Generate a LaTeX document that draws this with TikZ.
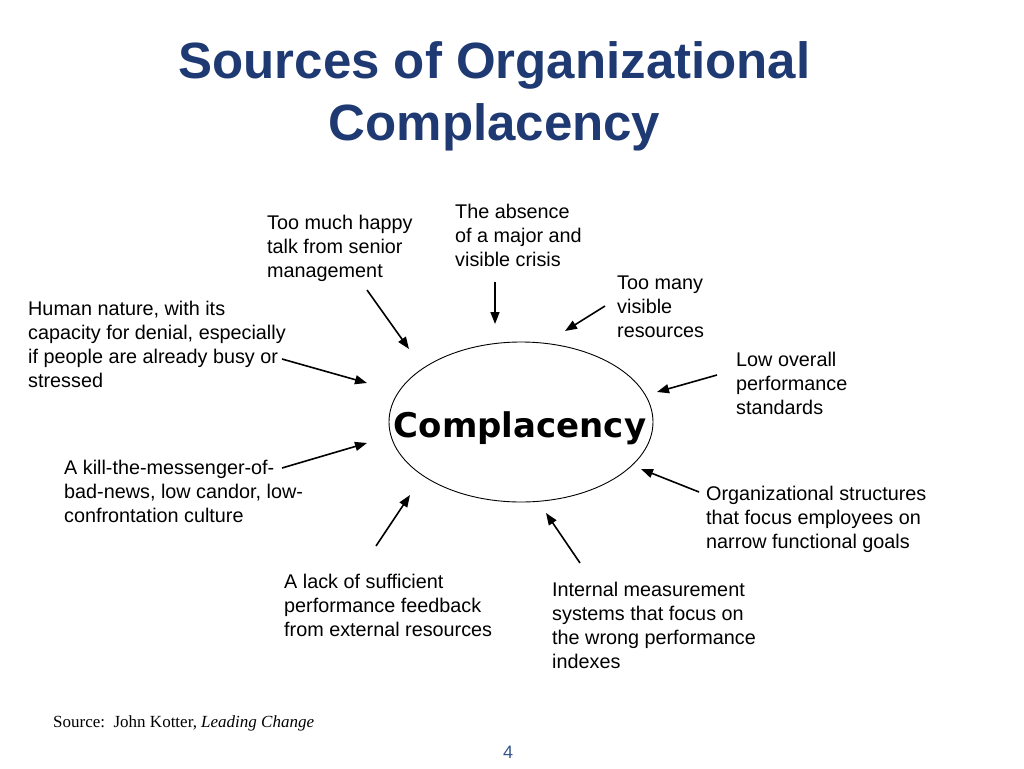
\documentclass[tikz,border=0pt]{standalone}
\usepackage{fontspec}
\setmainfont{Liberation Sans}
\newfontfamily\srcfont{Liberation Serif}
\newfontfamily\heavyfont{DejaVu Sans}
\usetikzlibrary{arrows.meta, shapes.geometric}
\definecolor{titleblue}{RGB}{31,58,114}
\definecolor{pageblue}{RGB}{55,85,140}
\tikzset{
  cause/.style={anchor=base west, align=left, inner sep=0pt, font=\fontsize{19.8}{24}\selectfont},
  push/.style={-{Triangle[length=12pt,width=9pt]}, line width=1.6pt},
}

\begin{document}
\begin{tikzpicture}[x=1pt, y=-1pt]
    \useasboundingbox (0,0) rectangle (1024,768);
    \node[anchor=base, align=center, inner sep=0pt, text=titleblue, font=\fontsize{51}{62}\selectfont\bfseries] (title) at (494.5,140) {Sources of Organizational\\Complacency};

    \node[draw, ellipse, line width=0.9pt, minimum width=264pt, minimum height=160pt, inner sep=0pt] (ell) at (521,422) {};
    \node[anchor=base, inner sep=0pt, font=\fontsize{34}{40}\heavyfont\bfseries] (cmp) at (520,437) {Complacency};

    \node[cause] (happy) at (267,277) {Too much happy\\talk from senior\\management};
    \node[cause] (crisis) at (455,266) {The absence\\of a major and\\visible crisis};
    \node[cause] (many) at (617,337) {Too many\\visible\\resources};
    \node[cause] (human) at (28,387) {Human nature, with its\\capacity for denial, especially\\if people are already busy or\\stressed};
    \node[cause] (low) at (736,414) {Low overall\\performance\\standards};
    \node[cause] (kill) at (64,522) {A kill-the-messenger-of-\\bad-news, low candor, low-\\confrontation culture};
    \node[cause] (org) at (706,548) {Organizational structures\\that focus employees on\\narrow functional goals};
    \node[cause] (lack) at (284,636) {A lack of sufficient\\performance feedback\\from external resources};
    \node[cause] (meas) at (552,668) {Internal measurement\\systems that focus on\\the wrong performance\\indexes};

    \coordinate (happyS) at (367,290);  \coordinate (happyE) at (409,349);
    \coordinate (crisisS) at (495,282); \coordinate (crisisE) at (495,324);
    \coordinate (manyS) at (605,306);   \coordinate (manyE) at (565,331);
    \coordinate (humanS) at (282,359);  \coordinate (humanE) at (367,383);
    \coordinate (lowS) at (717,375);    \coordinate (lowE) at (657,392);
    \coordinate (killS) at (282,468);   \coordinate (killE) at (367,443);
    \coordinate (orgS) at (699,492);    \coordinate (orgE) at (641,469);
    \coordinate (lackS) at (376,546);   \coordinate (lackE) at (410,495);
    \coordinate (measS) at (580,563);   \coordinate (measE) at (546,513);
    \draw[push] (happyS) -- (happyE);
    \draw[push] (crisisS) -- (crisisE);
    \draw[push] (manyS) -- (manyE);
    \draw[push] (humanS) -- (humanE);
    \draw[push] (lowS) -- (lowE);
    \draw[push] (killS) -- (killE);
    \draw[push] (orgS) -- (orgE);
    \draw[push] (lackS) -- (lackE);
    \draw[push] (measS) -- (measE);

    \node[anchor=base west, inner sep=0pt, font=\fontsize{17}{20}\srcfont] (src) at (53,727) {Source:\ \ John Kotter, \textit{Leading Change}};
    \node[anchor=base, inner sep=0pt, text=pageblue, font=\fontsize{18}{22}\selectfont] (page) at (508,758) {4};
\end{tikzpicture}
\end{document}
